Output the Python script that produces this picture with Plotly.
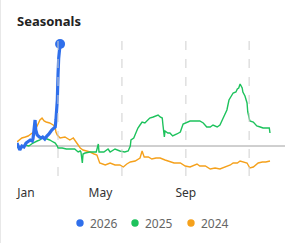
import plotly.graph_objects as go

# ---- data (day of year, seasonal change) ----
days_2026 = [0, 3, 4, 7, 10, 13, 16, 19, 22, 23, 24, 26, 27, 29, 32, 35, 37, 40, 43, 46, 50, 55, 56, 58, 59, 60, 62]
vals_2026 = [1.5, -1, -2, 0, -0.5, 1.5, 2.5, 3, 2.5, 3.5, 6.5, 13, 8, 5.5, 4.5, 4, 4.5, 3.5, 5, 6, 8, 9.5, 13, 23, 35.5, 44, 51]

days_2025 = [0, 3, 6, 12, 17, 23, 29, 33, 36, 40, 45, 47, 52, 55, 58, 59, 65, 71, 76, 83, 88, 91, 92, 94, 95, 98,
             105, 114, 117, 118, 125, 131, 134, 141, 148, 155, 160, 163, 164, 168, 171, 174, 177, 180, 184, 189,
             191, 196, 200, 203, 206, 209, 210, 212, 213, 217, 220, 224, 230, 235, 239, 242, 245, 249, 253, 259,
             263, 268, 273, 278, 282, 288, 292, 296, 302, 305, 308, 311, 315, 317, 319, 321, 324, 325, 328, 331,
             332, 335, 340, 345, 350, 354, 360, 363, 364]
vals_2025 = [0, -1.5, -0.5, 0.5, 0, 1.5, 2.5, 3, 4.5, 4, 3.5, 3, 2, 1.5, 0, -1, -1, -1.5, -1.5, -1.5, -3, -2.5, -3, -8.5, -4, -3.5,
             -3, -3, 1, -3, -3, -1.5, -3, -1.5, -2.5, -3, -2.5, 0, 3, 4, 6.5, 9, 10.5, 12, 11.5, 13,
             14, 14.5, 15, 15.5, 14.5, 14, 10.5, 4.5, 7.5, 6.5, 6.5, 5, 6, 7, 11, 11.5, 12, 12.5, 12.5, 12.5,
             12.5, 11.5, 9.5, 9.5, 10.5, 9.5, 10.5, 13.5, 18, 23, 25, 26.5, 27, 28.5, 29, 31, 29, 27, 25, 21.5,
             17, 12.5, 12, 10, 9.5, 9, 9, 9, 6.5]

days_2024 = [0, 4, 7, 12, 16, 20, 24, 29, 33, 36, 39, 42, 47, 52, 55, 56, 58, 62, 69, 76, 81, 86, 91, 95, 101, 105,
             111, 115, 119, 127, 134, 141, 148, 153, 158, 163, 170, 177, 180, 183, 189, 194, 200, 206, 213, 220,
             226, 235, 242, 249, 256, 259, 263, 271, 278, 285, 292, 299, 307, 311, 317, 321, 327, 331, 335, 340,
             347, 353, 358, 364]
vals_2024 = [2, 3, 4, 4.5, 5, 6, 7, 10, 13, 14, 12.5, 12, 11.5, 10.5, 9.5, 7, 5.5, 4, 4.5, 3, 4, 1.5, -1, -2, -2.5, -3,
             -4, -4.5, -8.5, -9.5, -8.5, -9.5, -9.5, -10.5, -9, -8, -7.5, -6, -2.5, -5.5, -5.5, -6.5, -6, -6, -7, -8,
             -8.5, -8.5, -10, -10.5, -9.5, -9, -10, -10, -11.5, -11, -11.5, -10.5, -9.5, -8.5, -8.5, -7.5, -8, -8.5, -11, -10.5,
             -8.5, -8, -8, -7.5]

series_names = ["2026", "2025", "2024"]
tick_labels = ["Jan", "May", "Sep"]
tick_days = [13, 120, 243]
grid_days = [59, 151, 243, 334]

C26, C25, C24 = "#2F6FEB", "#1DC25C", "#F5A11C"
colors = [C26, C25, C24]

fig = go.Figure()
fig.add_trace(go.Scatter(x=days_2024, y=vals_2024, mode="lines", line=dict(color=C24, width=1.4),
                         name=series_names[2], showlegend=False, hoverinfo="skip"))
fig.add_trace(go.Scatter(x=days_2025, y=vals_2025, mode="lines", line=dict(color=C25, width=1.4),
                         name=series_names[1], showlegend=False, hoverinfo="skip"))
fig.add_trace(go.Scatter(x=days_2026, y=vals_2026, mode="lines", line=dict(color=C26, width=3.2),
                         name=series_names[0], showlegend=False, hoverinfo="skip"))
fig.add_trace(go.Scatter(x=[days_2026[-1]], y=[vals_2026[-1]], mode="markers",
                         marker=dict(color=C26, size=10), showlegend=False, hoverinfo="skip"))

shapes = []
for d in grid_days:
    shapes.append(dict(type="line", xref="x", yref="paper", x0=d, x1=d, y0=0, y1=1,
                       line=dict(color="#cfcfcf", width=1, dash="dash"), layer="above"))
shapes.append(dict(type="line", xref="paper", yref="y", x0=0, x1=1, y0=0, y1=0,
                   line=dict(color="#a0a0a0", width=1), layer="below"))
shapes.append(dict(type="line", xref="paper", yref="paper", x0=-0.0616, x1=-0.0616, y0=-0.5, y1=1.3,
                   line=dict(color="#e8e8e8", width=1)))

# custom legend (dot + label), laid out in pixels relative to the plot area
PLOT_L, PLOT_W, PLOT_B, PLOT_H = 17, 268, 176, 143
legend_y_px = 223
dot_x_px = [80, 135, 191]
annotations = []
for name, col, dx in zip(series_names, colors, dot_x_px):
    px = (dx - PLOT_L) / PLOT_W
    py = (PLOT_B - legend_y_px) / PLOT_H
    shapes.append(dict(type="circle", xref="paper", yref="paper", xsizemode="pixel", ysizemode="pixel",
                       xanchor=px, yanchor=py, x0=-3.7, x1=3.7, y0=-3.7, y1=3.7,
                       fillcolor=col, line=dict(width=0)))
    annotations.append(dict(text=name, xref="paper", yref="paper", x=(dx + 8 - PLOT_L) / PLOT_W, y=py,
                            xanchor="left", yanchor="middle", showarrow=False,
                            font=dict(size=12, color="#666", family="Noto Sans")))

fig.update_layout(
    width=288, height=243,
    margin=dict(l=17, r=3, t=33, b=67),
    paper_bgcolor="white", plot_bgcolor="white",
    font=dict(family="Noto Sans", size=12, color="#333"),
    showlegend=False,
    title=dict(text="<b>Seasonals</b>", x=0, xref="paper", xanchor="left",
               y=1 - 21 / 243, yref="container", yanchor="middle",
               font=dict(size=13, color="#222", family="Noto Sans")),
    xaxis=dict(range=[0, 385.6], showgrid=False, zeroline=False, showline=False,
               tickmode="array", tickvals=tick_days, ticktext=tick_labels,
               ticks="outside", ticklen=6, tickcolor="rgba(0,0,0,0)",
               tickfont=dict(size=12, color="#333")),
    yaxis=dict(range=[-15, 56.5], visible=False),
    shapes=shapes,
    annotations=annotations,
)

fig.write_html("out.html")
